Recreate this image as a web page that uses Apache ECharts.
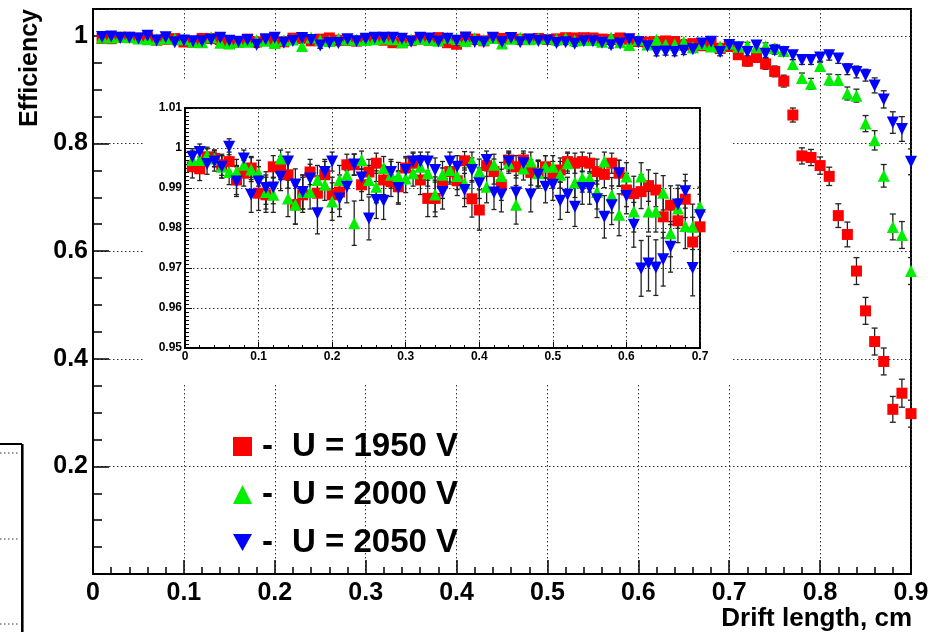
<!DOCTYPE html>
<html>
<head>
<meta charset="utf-8">
<script src="https://cdn.jsdelivr.net/npm/echarts@6/dist/echarts.min.js"></script>
<style>
  html, body { margin: 0; padding: 0; background: #fff; }
  #chart { width: 944px; height: 632px; }
</style>
</head>
<body>
<div id="chart"></div>
<script>
// drift length bins, 0.01 cm wide, centres 0.01 .. 0.90
const driftLength = Array.from({ length: 90 }, (_, i) => +((i + 1) * 0.01).toFixed(2));

// efficiency per bin
const eff1950 = [
  0.9953, 0.9948, 0.9978, 0.9974, 0.9958, 0.9966, 0.9920, 0.9937, 0.9950, 0.9887,
  0.9883, 0.9953, 0.9950, 0.9933, 0.9858, 0.9883, 0.9940, 0.9887, 0.9933, 0.9883,
  0.9890, 0.9958, 0.9958, 0.9908, 0.9940, 0.9962, 0.9920, 0.9916, 0.9903, 0.9950,
  0.9962, 0.9920, 0.9874, 0.9874, 0.9912, 0.9941, 0.9918, 0.9968, 0.9873, 0.9845,
  0.9956, 0.9941, 0.9908, 0.9970, 0.9953, 0.9970, 0.9939, 0.9937, 0.9953, 0.9933,
  0.9945, 0.9966, 0.9962, 0.9966, 0.9962, 0.9941, 0.9934, 0.9962, 0.9937, 0.9895,
  0.9886, 0.9891, 0.9906, 0.9895, 0.9828, 0.9857, 0.9818, 0.9872, 0.9765, 0.9803,
  0.965, 0.953, 0.960, 0.948, 0.934, 0.916, 0.853, 0.777, 0.774, 0.759,
  0.739, 0.666, 0.631, 0.563, 0.489, 0.432, 0.395, 0.306, 0.336, 0.298
];
const eff2000 = [
  0.9970, 0.9970, 0.9982, 0.9974, 0.9953, 0.9940, 0.9940, 0.9958, 0.9946, 0.9937,
  0.9890, 0.9883, 0.9974, 0.9874, 0.9858, 0.9890, 0.9890, 0.9920, 0.9908, 0.9866,
  0.9920, 0.9933, 0.9812, 0.9970, 0.9920, 0.9903, 0.9950, 0.9933, 0.9930, 0.9924,
  0.9937, 0.9953, 0.9937, 0.9884, 0.9933, 0.9945, 0.9930, 0.9912, 0.9966, 0.9941,
  0.9903, 0.9958, 0.9930, 0.9962, 0.9858, 0.9949, 0.9966, 0.9937, 0.9953, 0.9953,
  0.9933, 0.9962, 0.9914, 0.9925, 0.9925, 0.9890, 0.9966, 0.9882, 0.9833, 0.9929,
  0.9841, 0.9929, 0.9841, 0.9841, 0.9888, 0.9787, 0.9849, 0.9805, 0.9803, 0.9853,
  0.980, 0.982, 0.979, 0.981, 0.977, 0.972, 0.948, 0.922, 0.911, 0.944,
  0.919, 0.918, 0.893, 0.889, 0.837, 0.806, 0.740, 0.645, 0.630, 0.563
];
const eff2050 = [
  0.9978, 0.9990, 0.9960, 0.9966, 0.9953, 1.0003, 0.9916, 0.9974, 0.9883, 0.9916,
  0.9900, 0.9901, 0.9928, 0.9966, 0.9909, 0.9890, 0.9924, 0.9837, 0.9940, 0.9966,
  0.9874, 0.9903, 0.9959, 0.9926, 0.9824, 0.9870, 0.9868, 0.9940, 0.9900, 0.9945,
  0.9966, 0.9966, 0.9966, 0.9945, 0.9890, 0.9966, 0.9953, 0.9895, 0.9945, 0.9912,
  0.9970, 0.9889, 0.9884, 0.9966, 0.9889, 0.9962, 0.9884, 0.9933, 0.9903, 0.9908,
  0.9868, 0.9883, 0.9853, 0.9900, 0.9900, 0.9872, 0.9828, 0.9857, 0.9937, 0.9880,
  0.9808, 0.9699, 0.9711, 0.9701, 0.9722, 0.9753, 0.9859, 0.9892, 0.9700, 0.9832,
  0.979, 0.970, 0.982, 0.967, 0.973, 0.970, 0.964, 0.955, 0.955, 0.960,
  0.964, 0.958, 0.938, 0.933, 0.927, 0.908, 0.882, 0.839, 0.827, 0.766
];

// error bar half lengths read for the falling tail, bins 0.71 .. 0.90
const err1950Tail = [0.008, 0.009, 0.009, 0.010, 0.010, 0.011, 0.013, 0.015, 0.015, 0.016,
                     0.017, 0.022, 0.023, 0.025, 0.025, 0.025, 0.025, 0.024, 0.026, 0.025];
const err2000Tail = [0.006, 0.006, 0.006, 0.006, 0.007, 0.007, 0.008, 0.009, 0.010, 0.009,
                     0.010, 0.010, 0.012, 0.012, 0.015, 0.018, 0.021, 0.024, 0.025, 0.025];
const err2050Tail = [0.006, 0.007, 0.006, 0.007, 0.007, 0.007, 0.008, 0.008, 0.008, 0.009,
                     0.009, 0.009, 0.010, 0.011, 0.011, 0.014, 0.016, 0.020, 0.023, 0.024];
// flat region: binomial error with this many tracks per bin
const tracksPerBin = 600;
const insetBins = 70;

const names = ['U = 1950 V', 'U = 2000 V', 'U = 2050 V'];
const mainTicks = ['0', '0.1', '0.2', '0.3', '0.4', '0.5', '0.6', '0.7', '0.8', '0.9'];

const FONT = "'Liberation Sans', Arial, Helvetica, sans-serif";
const DOWN_TRIANGLE = 'path://M0,0 L10,0 L5,9 Z';

function errors(eff, tail) {
  return eff.map((e, i) => i < insetBins
    ? Math.max(0.002, Math.sqrt(Math.max(0, e * (1 - e)) / tracksPerBin))
    : tail[i - insetBins]);
}

const sets = [
  { name: names[0], color: '#ff0000', symbol: 'rect', icon: 'rect', size: 11, rotate: 0, eff: eff1950, err: errors(eff1950, err1950Tail) },
  { name: names[1], color: '#00ee00', symbol: 'triangle', icon: 'triangle', size: 12, rotate: 0, eff: eff2000, err: errors(eff2000, err2000Tail) },
  { name: names[2], color: '#0000ff', symbol: 'triangle', icon: DOWN_TRIANGLE, size: 12, rotate: 180, eff: eff2050, err: errors(eff2050, err2050Tail) },
];

function errorRender(capHalf) {
  return function (params, api) {
    const x = api.value(0);
    const top = api.coord([x, api.value(2)]);
    const bot = api.coord([x, api.value(1)]);
    const style = { stroke: '#222', lineWidth: 1.3 };
    return {
      type: 'group',
      children: [
        { type: 'line', shape: { x1: top[0], y1: top[1], x2: bot[0], y2: bot[1] }, style },
        { type: 'line', shape: { x1: top[0] - capHalf, y1: top[1], x2: top[0] + capHalf, y2: top[1] }, style },
        { type: 'line', shape: { x1: bot[0] - capHalf, y1: bot[1], x2: bot[0] + capHalf, y2: bot[1] }, style },
      ],
    };
  };
}

const series = [];
sets.forEach((s) => {
  const pts = driftLength.map((x, i) => [x, s.eff[i]]);
  const bars = driftLength.map((x, i) => [x, s.eff[i] - s.err[i], s.eff[i] + s.err[i]]);
  // main plot
  series.push({
    type: 'custom', name: s.name + ' err', xAxisIndex: 0, yAxisIndex: 0, z: 2,
    renderItem: errorRender(3), encode: { x: 0, y: [1, 2] }, data: bars, clip: true,
  });
  series.push({
    type: 'scatter', name: s.name, xAxisIndex: 0, yAxisIndex: 0, z: 2,
    symbol: s.symbol, symbolSize: s.size, symbolRotate: s.rotate,
    itemStyle: { color: s.color, opacity: 1 }, data: pts,
  });
  // inset, zoomed on the flat part
  series.push({
    type: 'custom', name: s.name + ' err inset', xAxisIndex: 1, yAxisIndex: 1, z: 12,
    renderItem: errorRender(2.5), encode: { x: 0, y: [1, 2] }, data: bars.slice(0, insetBins), clip: true,
  });
  series.push({
    type: 'scatter', name: s.name, xAxisIndex: 1, yAxisIndex: 1, z: 12,
    symbol: s.symbol, symbolSize: s.size, symbolRotate: s.rotate,
    itemStyle: { color: s.color, opacity: 1 }, data: pts.slice(0, insetBins),
  });
});

const dotted = { color: '#333', width: 1, type: [1.5, 2.5] };

const chart = echarts.init(document.getElementById('chart'));
chart.setOption({
  animation: false,
  backgroundColor: '#fff',
  textStyle: { fontFamily: FONT },
  grid: [
    { left: 93, top: 9, right: 33, bottom: 58, show: true, borderColor: '#000', borderWidth: 2, backgroundColor: 'transparent' },
    { left: 185, top: 108, right: 244, bottom: 284, show: true, borderColor: '#000', borderWidth: 2, backgroundColor: 'transparent', z: 11 },
  ],
  xAxis: [
    {
      type: 'value', gridIndex: 0, min: 0, max: 0.9, interval: 0.1,
      axisLine: { show: true, lineStyle: { color: '#000', width: 2 } },
      axisTick: { inside: true, length: 14, lineStyle: { color: '#000', width: 1.5 } },
      minorTick: { show: true, splitNumber: 5, length: 7, lineStyle: { color: '#000', width: 1.5 } },
      axisLabel: {
        margin: 7, color: '#000', fontSize: 25, fontWeight: 'bold', fontFamily: FONT,
        formatter: (v) => mainTicks[Math.round(v * 10)] ?? '',
      },
      splitLine: { show: true, lineStyle: dotted },
    },
    {
      type: 'value', gridIndex: 1, min: 0, max: 0.7, interval: 0.1, z: 11,
      axisLine: { show: true, lineStyle: { color: '#000', width: 2 } },
      axisTick: { inside: true, length: 6, lineStyle: { color: '#000', width: 1 } },
      minorTick: { show: true, splitNumber: 5, length: 3, lineStyle: { color: '#000', width: 1 } },
      axisLabel: { margin: 3, color: '#000', fontSize: 12, fontWeight: 'bold', fontFamily: FONT },
      splitLine: { show: true, lineStyle: dotted },
    },
  ],
  yAxis: [
    {
      type: 'value', gridIndex: 0, min: 0, max: 1.05, interval: 0.2,
      axisLine: { show: true, lineStyle: { color: '#000', width: 2 } },
      axisTick: { inside: true, length: 16, lineStyle: { color: '#000', width: 1.5 } },
      minorTick: { show: true, splitNumber: 4, length: 9, lineStyle: { color: '#000', width: 1.5 } },
      axisLabel: {
        margin: 5, color: '#000', fontSize: 25, fontWeight: 'bold', fontFamily: FONT,
        formatter: (v) => (v > 0.01 && Math.abs(v * 5 - Math.round(v * 5)) < 1e-6) ? String(Math.round(v * 10) / 10) : '',
      },
      splitLine: { show: true, lineStyle: dotted },
    },
    {
      type: 'value', gridIndex: 1, min: 0.95, max: 1.01, interval: 0.01, z: 11,
      axisLine: { show: true, lineStyle: { color: '#000', width: 2 } },
      axisTick: { inside: true, length: 7, lineStyle: { color: '#000', width: 1 } },
      minorTick: { show: true, splitNumber: 10, length: 4, lineStyle: { color: '#000', width: 1 } },
      axisLabel: { margin: 3, color: '#000', fontSize: 12, fontWeight: 'bold', fontFamily: FONT },
      splitLine: { show: true, lineStyle: dotted },
    },
  ],
  legend: {
    data: sets.map((s) => ({ name: s.name, icon: s.icon, itemStyle: { color: s.color } })),
    orient: 'vertical', left: 228, top: 425, padding: 5,
    itemWidth: 19, itemHeight: 19, itemGap: 15, selectedMode: false,
    textStyle: {
      color: '#000', fontSize: 33, fontWeight: 'bold', fontFamily: FONT, lineHeight: 30,
      rich: {
        d: { fontSize: 33, fontWeight: 'bold', fontFamily: FONT, width: 30, padding: [0, 0, 0, 5] },
        t: { fontSize: 33, fontWeight: 'bold', fontFamily: FONT },
      },
    },
    formatter: (n) => '{d|-}{t|' + n + '}',
  },
  graphic: [
    // white pad behind the inset
    { type: 'rect', z: 10, silent: true, shape: { x: 145, y: 80, width: 586, height: 303 }, style: { fill: '#fff' } },
    // axis titles
    {
      type: 'text', x: 30, y: 9, rotation: Math.PI / 2, z: 20,
      style: { text: 'Efficiency', font: 'bold 25px ' + FONT, fill: '#000', align: 'right', verticalAlign: 'middle' },
    },
    {
      type: 'text', x: 912, y: 619, z: 20,
      style: { text: 'Drift length, cm', font: 'bold 26px ' + FONT, fill: '#000', align: 'right', verticalAlign: 'middle' },
    },
    // edge of the neighbouring plot on the left
    { type: 'line', z: 5, shape: { x1: 0, y1: 444, x2: 22, y2: 444 }, style: { stroke: '#000', lineWidth: 2 } },
    { type: 'line', z: 5, shape: { x1: 22, y1: 444, x2: 22, y2: 632 }, style: { stroke: '#000', lineWidth: 2 } },
    { type: 'line', z: 5, shape: { x1: 23.5, y1: 444, x2: 23.5, y2: 632 }, style: { stroke: '#e33', lineWidth: 1 } },
    { type: 'line', z: 5, shape: { x1: 0, y1: 453, x2: 20, y2: 453 }, style: { stroke: '#333', lineWidth: 1, lineDash: [1.5, 2.5] } },
    { type: 'line', z: 5, shape: { x1: 0, y1: 539, x2: 20, y2: 539 }, style: { stroke: '#333', lineWidth: 1, lineDash: [1.5, 2.5] } },
    { type: 'line', z: 5, shape: { x1: 0, y1: 624, x2: 20, y2: 624 }, style: { stroke: '#333', lineWidth: 1, lineDash: [1.5, 2.5] } },
  ],
  series,
});
</script>
</body>
</html>
